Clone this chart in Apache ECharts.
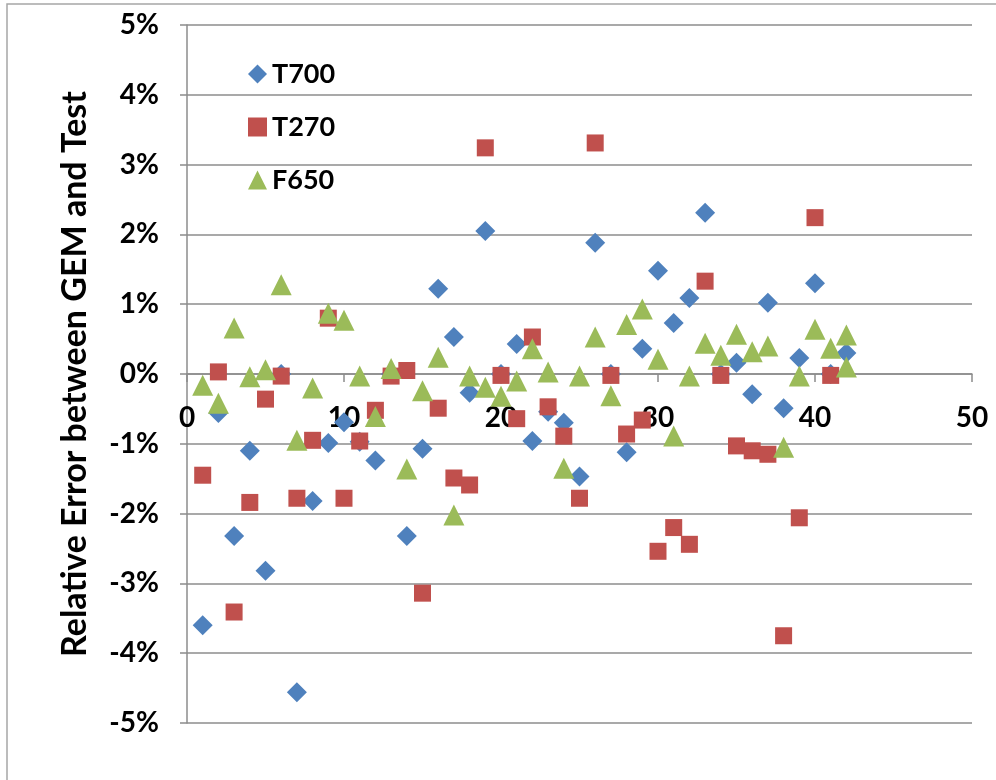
<!DOCTYPE html>
<html>
<head>
<meta charset="utf-8">
<script src="https://cdn.jsdelivr.net/npm/echarts@6/dist/echarts.min.js"></script>
<style>
  html, body { margin: 0; padding: 0; background: #fff; }
</style>
</head>
<body>
<div id="chart" style="width:996px;height:780px;"></div>
<script>
// relative error in percent, [run, value]
const t700 = [
  [1, -3.6], [2, -0.56], [3, -2.32], [4, -1.1], [5, -2.82], [6, 0], [7, -4.56], [8, -1.82],
  [9, -0.99], [10, -0.69], [11, -0.97], [12, -1.24], [13, 0], [14, -2.32], [15, -1.07],
  [16, 1.22], [17, 0.53], [18, -0.27], [19, 2.05], [20, 0], [21, 0.43], [22, -0.96],
  [23, -0.54], [24, -0.7], [25, -1.47], [26, 1.88], [27, 0], [28, -1.12], [29, 0.36],
  [30, 1.48], [31, 0.73], [32, 1.09], [33, 2.31], [34, 0], [35, 0.16], [36, -0.29],
  [37, 1.02], [38, -0.49], [39, 0.23], [40, 1.3], [41, 0], [42, 0.3]
]
const t270 = [
  [1, -1.45], [2, 0.03], [3, -3.41], [4, -1.84], [5, -0.36], [6, -0.03], [7, -1.78], [8, -0.95],
  [9, 0.8], [10, -1.78], [11, -0.96], [12, -0.52], [13, -0.03], [14, 0.05], [15, -3.14],
  [16, -0.49], [17, -1.49], [18, -1.59], [19, 3.24], [20, -0.02], [21, -0.64], [22, 0.53],
  [23, -0.47], [24, -0.89], [25, -1.78], [26, 3.31], [27, -0.02], [28, -0.86], [29, -0.66],
  [30, -2.54], [31, -2.2], [32, -2.44], [33, 1.33], [34, -0.02], [35, -1.03], [36, -1.1],
  [37, -1.15], [38, -3.75], [39, -2.06], [40, 2.24], [41, -0.02]
]
const f650 = [
  [1, -0.16], [2, -0.42], [3, 0.66], [4, -0.04], [5, 0.06], [6, 1.28], [7, -0.95], [8, -0.2],
  [9, 0.87], [10, 0.77], [11, -0.03], [12, -0.61], [13, 0.08], [14, -1.36], [15, -0.24],
  [16, 0.24], [17, -2.02], [18, -0.03], [19, -0.19], [20, -0.32], [21, -0.1], [22, 0.36],
  [23, 0.03], [24, -1.35], [25, -0.03], [26, 0.53], [27, -0.31], [28, 0.71], [29, 0.93],
  [30, 0.21], [31, -0.89], [32, -0.03], [33, 0.44], [34, 0.27], [35, 0.57], [36, 0.32],
  [37, 0.4], [38, -1.05], [39, -0.03], [40, 0.64], [41, 0.37], [42, 0.56], [42, 0.1]
]
const seriesNames = ["T700", "T270", "F650"]

const font = "Lato, 'Open Sans', sans-serif"
const gridColor = "#8c8c8c"

// y range, the x axis sits on y = 0
const yMin = -5
const yMax = 5
const gridTop = 25
const gridBottom = 57
const chartH = 780

let myChart = echarts.init(document.getElementById("chart"))

// put the x axis line on zero of the y axis
let plotH = chartH - gridTop - gridBottom
let zeroOffset = -plotH * (0 - yMin) / (yMax - yMin)

let option = {
  animation: false,
  textStyle: { fontFamily: font },
  graphic: [{
    type: "rect",
    shape: { x: 7, y: 4, width: 1200, height: 1200 },
    style: { fill: null, stroke: "#a6a6a6", lineWidth: 1.5 },
    silent: true
  }],
  grid: { left: 187, right: 24, top: gridTop, bottom: gridBottom },
  legend: {
    orient: "vertical",
    left: 243,
    top: 55,
    itemWidth: 19,
    itemHeight: 19,
    itemGap: 25,
    data: seriesNames,
    textStyle: { fontFamily: font, fontWeight: "bold", fontSize: 27, color: "#000", lineHeight: 28 }
  },
  xAxis: {
    type: "value",
    min: 0,
    max: 50,
    interval: 10,
    position: "bottom",
    offset: zeroOffset,
    splitLine: { show: false },
    axisLine: { onZero: false, lineStyle: { color: gridColor, width: 1.5 } },
    axisTick: { show: true, length: 8, lineStyle: { color: gridColor, width: 1.5 } },
    axisLabel: { margin: 30, fontFamily: font, fontWeight: "bold", fontSize: 28, color: "#000" }
  },
  yAxis: {
    type: "value",
    min: yMin,
    max: yMax,
    interval: 1,
    name: "Relative Error between GEM and Test",
    nameLocation: "middle",
    nameGap: 95,
    nameTextStyle: { fontFamily: font, fontWeight: "bold", fontSize: 34, color: "#000" },
    axisLine: { show: true, onZero: false, lineStyle: { color: gridColor, width: 1.5 } },
    axisTick: { show: true, length: 7, lineStyle: { color: gridColor, width: 1.5 } },
    splitLine: { lineStyle: { color: gridColor, width: 1.5 } },
    axisLabel: {
      margin: 28,
      fontFamily: font, fontWeight: "bold", fontSize: 28, color: "#000",
      formatter: v => v + "%"
    }
  },
  series: [
    {
      name: "T700", type: "scatter", data: t700,
      symbol: "diamond", symbolSize: 20,
      itemStyle: { color: "#4f81bd", opacity: 1 }
    },
    {
      name: "T270", type: "scatter", data: t270,
      symbol: "rect", symbolSize: 17,
      itemStyle: { color: "#c0504d", opacity: 1 }
    },
    {
      name: "F650", type: "scatter", data: f650,
      symbol: "triangle", symbolSize: 21,
      itemStyle: { color: "#9bbb59", opacity: 1 }
    }
  ]
}
myChart.setOption(option)
</script>
</body>
</html>
